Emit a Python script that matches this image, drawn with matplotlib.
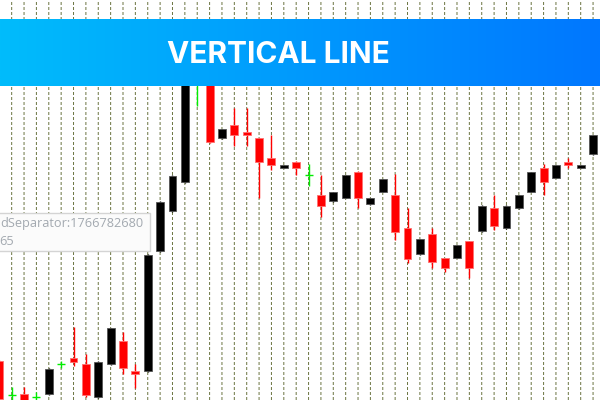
import matplotlib
matplotlib.use("Agg")
import matplotlib.pyplot as plt
import matplotlib.patches as patches
import numpy as np

# candle data (price units, bottom of chart = 0)
opens = [39, 5, 6, 3.3, 5.7, 35.7, 42.3, 36, 2.7, 36,
         59, 29, 29, 149, 189, 218.3, 330, 325, 261.7, 275,
         268.3, 261.7, 241.7, 232.3, 238.3, 225, 205, 199, 202.3, 228.3,
         195.7, 208.3, 205, 171.7, 145.7, 165.7, 141.7, 142.3, 159, 169,
         192.3, 172.3, 192.3, 208.3, 232.3, 222.3, 238.3, 232.3, 245.7]
highs = [40, 13.3, 13.3, 8.3, 32, 39.3, 72.7, 46, 39, 72.5,
         68.3, 35.7, 146, 199, 225, 332, 340, 330, 271.5, 291.7,
         291.7, 262.3, 265, 235, 239, 235.7, 225, 208, 225.5, 229,
         202, 221.5, 225.7, 192.3, 161.5, 171.7, 142, 155.5, 159.5, 194.8,
         205, 194.8, 205.5, 228, 235.7, 235.5, 241.7, 235.3, 265.5]
lows = [-3, -1, -2, -1, 5, 31.7, 34, 2.7, 2, 35,
        25.7, 11.7, 28, 148, 188, 217, 294.3, 257, 261, 254,
        254, 201.7, 230, 232, 225, 214.3, 183.3, 198.5, 202, 192.3,
        195, 208, 160, 136.7, 145, 132.3, 127.7, 142, 122.3, 168.5,
        170, 171.5, 191, 208, 205, 222, 231.7, 232, 245]
closes = [1, 5, -1, 3.3, 31, 35.7, 38.3, 5, 38, 71.7,
          31.7, 25.7, 145, 198.3, 224.3, 330, 330, 257.7, 271, 265,
          265, 237.7, 235, 234.7, 231.7, 225, 194.3, 207.7, 225, 201.7,
          201.7, 221, 168.3, 141.3, 161, 138.3, 132.3, 155, 132.3, 194.3,
          174.3, 194.3, 205, 227.7, 217.7, 235, 235, 235, 265]

title = "VERTICAL LINE"
tip_line1 = "dSeparator:1766782680"
tip_line2 = "65"

fig = plt.figure(figsize=(6, 4), dpi=100)
ax = fig.add_axes([0, 0, 1, 1])
ax.axis('off')

n = len(opens)
xs = np.arange(n)
step = 12.37  # pixels per bar
ax.set_xlim(0.7 / step, 600.7 / step)
ax.set_ylim(0, 400)

# period separators
for x in xs:
    ax.axvline(x, color='#6e7745', lw=0.72, linestyle=(0, (3, 2)),
               snap=False, zorder=1)

w = 0.64
for x, o, h, l, c in zip(xs, opens, highs, lows, closes):
    if o == c:
        ax.vlines(x, l, h, color='#00ee00', lw=1, zorder=3)
        ax.hlines(o, x - w / 2, x + w / 2, color='#00ee00', lw=1, zorder=3)
        continue
    if c > o:
        color, edge = 'black', '#555555'
    else:
        color, edge = '#ff0000', '#ff7070'
    ax.vlines(x, l, h, color=color, lw=1, zorder=2)
    ax.add_patch(patches.Rectangle((x - w / 2, min(o, c)), w, abs(c - o),
                                   facecolor=color, edgecolor=edge,
                                   lw=0.6, zorder=3))

# banner
bax = fig.add_axes([0, 1 - 86.5 / 400, 1, 68 / 400])
grad = np.linspace(0, 1, 256).reshape(1, -1)
cmap = matplotlib.colors.LinearSegmentedColormap.from_list(
    'banner', ['#00bcfb', '#0077ff'])
bax.imshow(grad, aspect='auto', cmap=cmap, extent=(0, 1, 0, 1))
bax.set_xlim(0, 1)
bax.set_ylim(0, 1)
bax.axis('off')
bax.text(0.464, 0.46, title, color='white', fontsize=21.5, fontweight='bold',
         family='Inter', ha='center', va='center')

# tooltip box
fig.add_artist(patches.Rectangle((-0.01, 1 - 251 / 400), 150 / 600 + 0.01,
                                 38 / 400, transform=fig.transFigure,
                                 facecolor='#fbfbfb', edgecolor='#d4d4d4',
                                 lw=1, zorder=5))
fig.text(143.5 / 600, 1 - 226.5 / 400, tip_line1, color='#a3a9b0',
         fontsize=9.2, family='Open Sans', ha='right', va='baseline', zorder=6)
fig.text(14 / 600, 1 - 245 / 400, tip_line2, color='#a3a9b0',
         fontsize=9.2, family='Open Sans', ha='right', va='baseline', zorder=6)

fig.savefig('out.png', dpi=100)
